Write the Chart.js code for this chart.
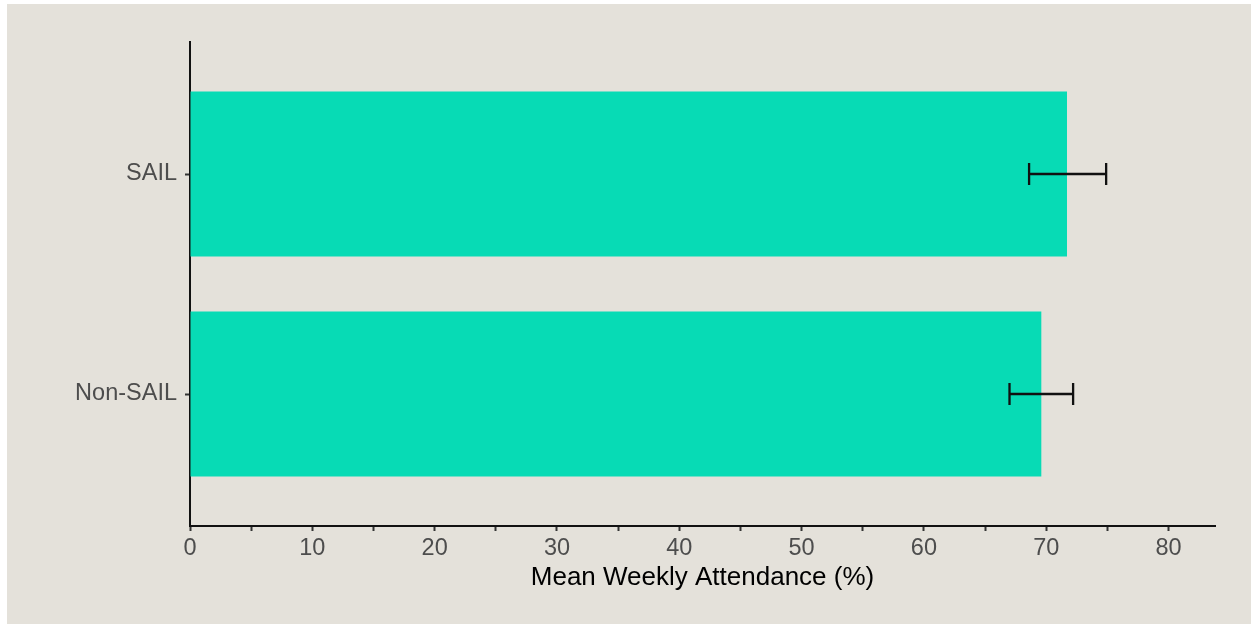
<!DOCTYPE html>
<html>
<head>
<meta charset="utf-8">
<script src="https://cdn.jsdelivr.net/npm/chart.js@4/dist/chart.umd.min.js"></script>
<style>
  html, body { margin: 0; padding: 0; background: #ffffff; }
  #wrap { position: absolute; left: 7px; top: 4px; width: 1244px; height: 620px; background: #E4E1DA; }
  canvas { display: block; }
</style>
</head>
<body>
<div id="wrap"><canvas id="c" width="1244" height="620"></canvas></div>
<script>
// Data (bottom to top)
const categories = ['Non-SAIL', 'SAIL'];
const meanAttendance = [69.6, 71.7];
const errLow = [67.0, 68.6];
const errHigh = [72.2, 74.9];
const xTickStep = 5;
const xMax = 83.8;
const xTitle = 'Mean Weekly Attendance (%)';

const positions = categories.map((_, i) => i + 1);

const errorBars = {
  id: 'errorBars',
  afterDatasetsDraw(chart) {
    const { ctx, scales: { x, y } } = chart;
    ctx.save();
    ctx.strokeStyle = '#111111';
    ctx.lineWidth = 2.3;
    ctx.lineCap = 'butt';
    positions.forEach((p, i) => {
      const yc = y.getPixelForValue(p);
      const y1 = y.getPixelForValue(p - 0.05);
      const y2 = y.getPixelForValue(p + 0.05);
      const xl = x.getPixelForValue(errLow[i]);
      const xh = x.getPixelForValue(errHigh[i]);
      ctx.beginPath();
      ctx.moveTo(xl, yc); ctx.lineTo(xh, yc);
      ctx.moveTo(xl, y1); ctx.lineTo(xl, y2);
      ctx.moveTo(xh, y1); ctx.lineTo(xh, y2);
      ctx.stroke();
    });
    ctx.restore();
  }
};

new Chart(document.getElementById('c'), {
  type: 'bar',
  data: {
    datasets: [{
      data: meanAttendance.map((v, i) => ({ x: v, y: positions[i] })),
      backgroundColor: '#07DBB5',
      borderWidth: 0,
      barPercentage: 0.75,
      categoryPercentage: 1.0
    }]
  },
  options: {
    indexAxis: 'y',
    responsive: false,
    animation: false,
    devicePixelRatio: 1,
    layout: { padding: { left: 0, top: 38, right: 36, bottom: 0 } },
    plugins: { legend: { display: false }, tooltip: { enabled: false } },
    scales: {
      x: {
        type: 'linear',
        min: 0,
        max: xMax,
        offset: false,
        grid: { drawOnChartArea: false, drawTicks: true, tickLength: 5, tickColor: '#333333', tickWidth: 2 },
        border: { display: true, color: '#111111', width: 2 },
        ticks: {
          stepSize: xTickStep,
          includeBounds: false,
          autoSkip: false,
          maxRotation: 0,
          padding: 3,
          color: '#4D4D4D',
          font: { family: '"Liberation Sans", Arial, sans-serif', size: 23.5 },
          callback: (v) => (v % 10 === 0 ? String(v) : '')
        },
        title: {
          display: true,
          text: xTitle,
          color: '#000000',
          font: { family: '"Liberation Sans", Arial, sans-serif', size: 26 },
          padding: { top: 0, bottom: 31 }
        },
        afterFit(scale) { scale.height = 98; }
      },
      y: {
        type: 'linear',
        min: 0.4,
        max: 2.6,
        offset: false,
        grid: { offset: false, drawOnChartArea: false, drawTicks: true, tickLength: 5, tickColor: '#333333', tickWidth: 2 },
        border: { display: true, color: '#111111', width: 2 },
        afterBuildTicks(scale) { scale.ticks = positions.map(v => ({ value: v })); },
        ticks: {
          padding: 8,
          color: '#4D4D4D',
          font: { family: '"Liberation Sans", Arial, sans-serif', size: 23.5 },
          callback: (v) => categories[Math.round(v) - 1] ?? ''
        },
        afterFit(scale) { scale.width = 183; }
      }
    }
  },
  plugins: [errorBars]
});
</script>
</body>
</html>
